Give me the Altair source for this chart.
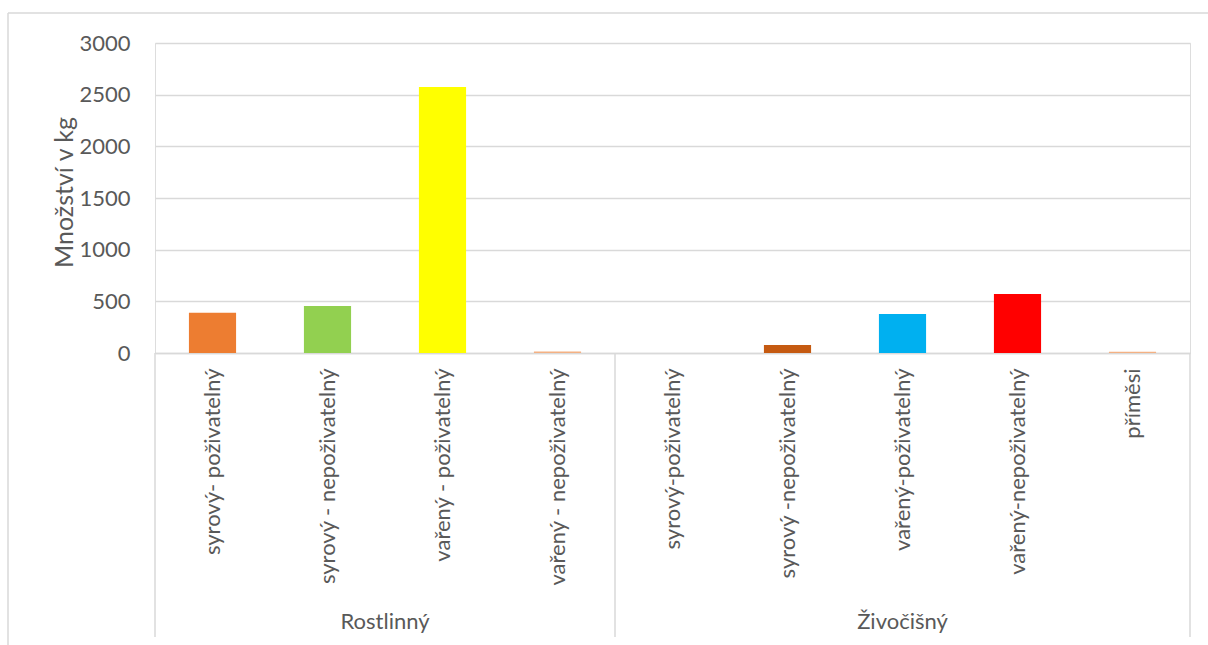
import altair as alt
import pandas as pd

categories = [
    "syrový- poživatelný", "syrový - nepoživatelný", "vařený - poživatelný",
    "vařený - nepoživatelný", "syrový-poživatelný", "syrový -nepoživatelný",
    "vařený-poživatelný", "vařený-nepoživatelný", "příměsi",
]
values = [390, 455, 2575, 15, 0, 77, 377, 572, 13]
colors = ["#ED7D31", "#92D050", "#FFFF00", "#F4B183", "#F4B183",
          "#C55A11", "#00B0F0", "#FF0000", "#F4B183"]
groups = ["Rostlinný", "Živočišný"]
group_start = [0, 4]
group_end = [4, 9]
y_ticks = [0, 500, 1000, 1500, 2000, 2500, 3000]

FONT = "Lato"
TXT = "#595959"
GRID = "#D9D9D9"

W, H = 1035, 310
PL, PT = 155, 43

df = pd.DataFrame({"cat": categories, "val": values, "color": colors})
gdf = pd.DataFrame({"group": groups, "start": group_start, "end": group_end})
gdf["mid"] = (gdf["start"] + gdf["end"]) / 2
bounds = pd.DataFrame({"b": sorted(set(group_start + group_end))})

bars = alt.Chart(df).mark_bar().encode(
    x=alt.X("cat:N", sort=categories,
            scale=alt.Scale(paddingInner=0.59, paddingOuter=0.295),
            axis=alt.Axis(title=None, labelAngle=270, labelAlign="right",
                          labelBaseline="middle", labelPadding=15,
                          labelFontSize=22, labelFont=FONT, labelColor=TXT,
                          labelLimit=400, ticks=False, tickSize=0,
                          domainColor=GRID, domainWidth=1.5, grid=False)),
    y=alt.Y("val:Q", scale=alt.Scale(domain=[0, 3000], nice=False),
            axis=alt.Axis(values=y_ticks, format="d", title="Množství v kg",
                          titleFont=FONT, titleFontSize=25, titleFontWeight="normal",
                          titleColor=TXT, titleAngle=270, titleX=-91, titleY=H / 2 - 6,
                          titleAlign="center", titleBaseline="middle",
                          labelFont=FONT, labelFontSize=22, labelColor=TXT,
                          labelPadding=25, ticks=False, tickSize=0, domain=False,
                          gridColor=GRID, gridWidth=1.5)),
    color=alt.Color("color:N", scale=None),
)

xq = alt.X("b:Q", scale=alt.Scale(domain=[0, 9], nice=False, zero=False), axis=None)

seps = alt.Chart(bounds).mark_rule(color=GRID, strokeWidth=1.5).encode(
    x=xq, y=alt.value(H), y2=alt.value(594)
)

glabels = alt.Chart(gdf).mark_text(font=FONT, fontSize=22, color=TXT,
                                   baseline="middle", align="center").encode(
    x=alt.X("mid:Q", scale=alt.Scale(domain=[0, 9], nice=False, zero=False), axis=None),
    y=alt.value(579),
    text="group:N",
)

border_left = alt.Chart(bounds.head(1)).mark_rule(color=GRID, strokeWidth=1.5).encode(
    x=alt.value(8 - PL), y=alt.value(13 - PT), y2=alt.value(645 - PT)
)
border_top = alt.Chart(bounds.head(1)).mark_rule(color=GRID, strokeWidth=1.5).encode(
    x=alt.value(8 - PL), x2=alt.value(1208 - PL), y=alt.value(13 - PT)
)

chart = alt.layer(bars, seps, glabels, border_left, border_top).resolve_scale(
    x="independent"
).properties(
    width=W, height=H,
    padding={"left": PL, "top": PT, "right": 1208 - PL - W, "bottom": 645 - PT - H},
    autosize=alt.AutoSizeParams(type="none"),
).configure_view(stroke=None).configure(background="white")

chart.save("out.html", embed_options={"renderer": "svg", "actions": False})
